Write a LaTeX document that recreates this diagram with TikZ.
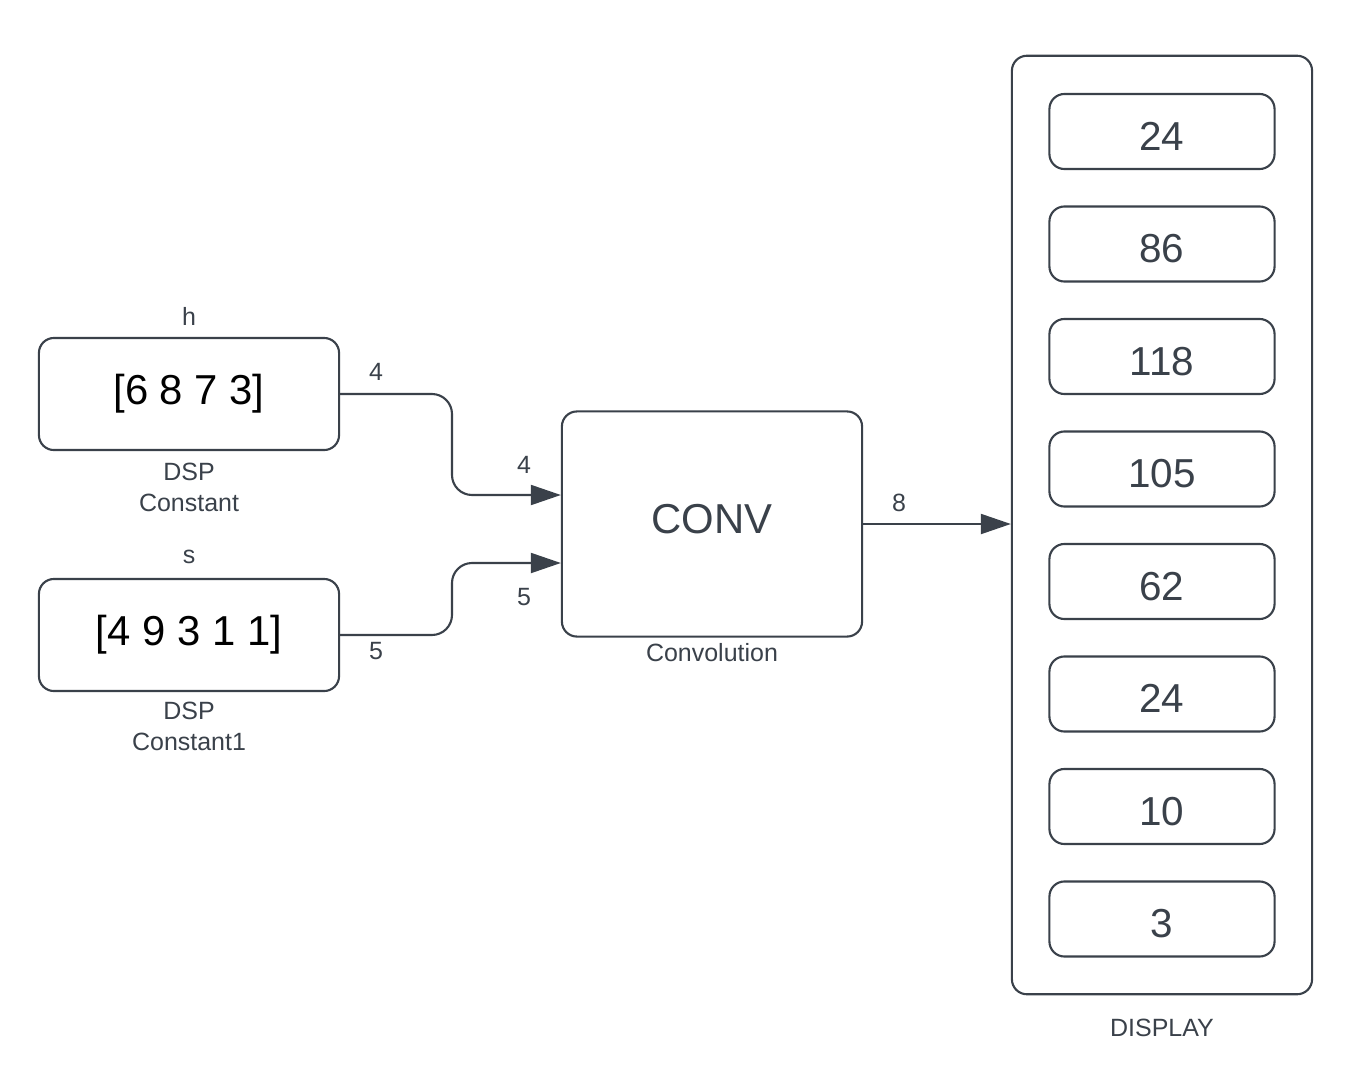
\documentclass[tikz,border=0pt]{standalone}
\usepackage{fontspec}
\setmainfont{Liberation Sans}
\usepackage{tikz}
\usetikzlibrary{arrows.meta}
\usepackage{xcolor}
\definecolor{linegray}{RGB}{58,65,74}

\begin{document}
\begin{tikzpicture}[x=0.01cm, y=-0.01cm]
        % ================= 样式定义 =================
        \tikzset{
            % 模块方框
            block/.style={draw=linegray, line width=0.6pt, rounded corners=0.15cm, fill=white, minimum width=3cm, inner sep=0pt},
            % 常数模块里的数组
            constbox/.style={block, minimum height=1.12cm, font=\fontsize{11.9}{14}\selectfont, text=black},
            % 显示器里的小格 (数字略偏下)
            cell/.style={block, minimum width=2.25cm, minimum height=0.75cm, font=\fontsize{11.5}{13}\selectfont, text=linegray, text height=10.7pt, text depth=0pt},
            % 模块下面/上面的小字
            tag/.style={font=\fontsize{7.1}{8.8}\selectfont, text=linegray, align=center, inner sep=0pt},
            % 信号线
            sig/.style={draw=linegray, line width=0.6pt, rounded corners=0.2cm, -{Triangle[length=0.3cm, width=0.2cm]}}
        }

        \useasboundingbox (0,0) rectangle (1350,1069);

        % ================= 1. 两个常数模块 =================
        \node[constbox] (hbox) at (189,394) {[6 8 7 3]};
        \node[tag] (hname) at (189,316) {h};
        \node[tag] (hlab) at (189,487) {DSP\\Constant};

        \node[constbox] (sbox) at (189,635) {[4 9 3 1 1]};
        \node[tag] (sname) at (189,557) {s};
        \node[tag] (slab) at (189,726) {DSP\\Constant1};

        % ================= 2. 卷积模块 =================
        \node[block, minimum height=2.25cm, font=\fontsize{11.9}{14}\selectfont, text=linegray, text height=5.6pt, text depth=0pt] (conv) at (712,524) {CONV};
        \node[tag] (convlab) at (712,653) {Convolution};

        % ================= 3. 显示器 =================
        \node[block, minimum height=9.38cm] (disp) at (1162,525) {};
        \node[tag] (displab) at (1162,1028) {DISPLAY};
        \foreach \v [count=\i] in {24,86,118,105,62,24,10,3}
            \node[cell] (d\i) at (1162,{131.5+112.5*(\i-1)}) {\v};

        % ================= 4. 信号线 =================
        \coordinate (in1) at (conv.west |- 0,495);
        \coordinate (in2) at (conv.west |- 0,563);
        \draw[sig] (hbox.east) -- (452,394) -- (452,495) -- (in1);
        \draw[sig] (sbox.east) -- (452,635) -- (452,563) -- (in2);
        \draw[sig] (conv.east) -- (disp.west |- conv.east);

        % 线上的维数
        \node[tag] (w1a) at (376,372) {4};
        \node[tag] (w1b) at (524,465) {4};
        \node[tag] (w2a) at (376,651) {5};
        \node[tag] (w2b) at (524,597) {5};
        \node[tag] (w3) at (899,503) {8};

\end{tikzpicture}
\end{document}
